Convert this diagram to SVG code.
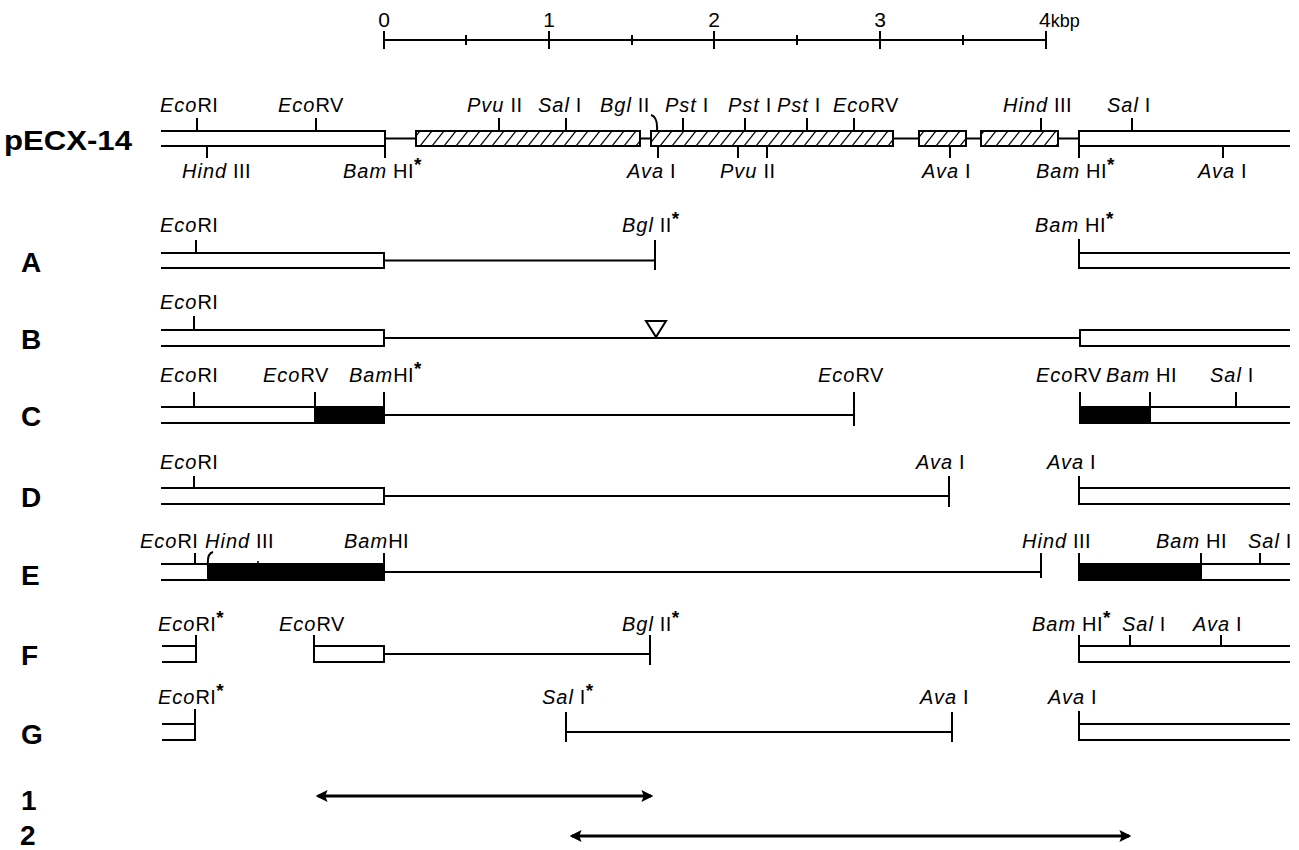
<svg xmlns="http://www.w3.org/2000/svg" width="1299" height="850" viewBox="0 0 1299 850">
<style>
text{font-family:"Liberation Sans",Arial,sans-serif;fill:#000}
.l{font-size:20px;letter-spacing:0.4px}
.i{font-style:italic;letter-spacing:1px}
.s{font-size:19px;font-weight:bold}
.big{font-size:28px;font-weight:bold}
.sc{font-size:21px}
.ln{stroke:#000;stroke-width:2;fill:none}
.blk{fill:#000;stroke:#000;stroke-width:2}
.hb{fill:url(#hatch);stroke:#000;stroke-width:2}
.arr{stroke:#000;stroke-width:3;fill:none}
</style>
<defs>
<pattern id="hatch" patternUnits="userSpaceOnUse" x="0" y="131" width="12" height="15">
<path d="M0,15 L12,0" stroke="#000" stroke-width="1.2"/>
</pattern>
<marker id="ah" viewBox="0 0 10 10" refX="8" refY="5" markerWidth="4" markerHeight="4" orient="auto-start-reverse" markerUnits="strokeWidth">
<path d="M0,0 L10,5 L0,10 L2,5 Z" fill="#000"/>
</marker>
</defs>

<g id="scale">
<path class="ln" d="M384,40 H1046 M384,31 V49 M549,31 V49 M714,31 V49 M880,31 V49 M1046,31 V49 M466,35 V45 M632,35 V45 M797,35 V45 M963,35 V45"/>
<text class="sc" x="384" y="27" text-anchor="middle">0</text>
<text class="sc" x="549" y="27" text-anchor="middle">1</text>
<text class="sc" x="714" y="27" text-anchor="middle">2</text>
<text class="sc" x="880" y="27" text-anchor="middle">3</text>
<text class="sc" x="1039" y="27">4<tspan font-size="18">kbp</tspan></text>
</g>

<g id="row-labels">
<text class="big" x="4" y="150" textLength="128" lengthAdjust="spacingAndGlyphs">pECX-14</text>
<text class="big" x="21" y="272">A</text>
<text class="big" x="21" y="349">B</text>
<text class="big" x="21" y="426">C</text>
<text class="big" x="21" y="507">D</text>
<text class="big" x="21" y="585">E</text>
<text class="big" x="21" y="665">F</text>
<text class="big" x="21" y="744">G</text>
<text class="big" x="21" y="810">1</text>
<text class="big" x="20" y="845">2</text>
</g>

<g id="pECX14">
<path class="ln" d="M161,131 H385 V158 M385,146 H161 M385,138.5 H416 M640,138.5 H651 M893,138.5 H919 M966,138.5 H981 M1058,138.5 H1079 M1290,131 H1079 V158 M1079,146 H1290"/>
<rect class="hb" x="416" y="131" width="224" height="15"/>
<rect class="hb" x="651" y="131" width="242" height="15"/>
<rect class="hb" x="919" y="131" width="47" height="15"/>
<rect class="hb" x="981" y="131" width="77" height="15"/>
<path class="ln" d="M197,118 V131 M316,118 V131 M499,118 V131 M566,118 V131 M683,118 V131 M745,118 V131 M807,118 V131 M854,118 V131 M1041,118 V131 M1132,118 V131 M651,115 Q658,117 657,131 M207,146 V158 M658,146 V158 M738,146 V158 M767,146 V158 M950,146 V158 M1223,146 V158"/>
<g class="l">
<text x="160" y="112"><tspan class="i">Eco</tspan>RI</text>
<text x="278" y="112"><tspan class="i">Eco</tspan>RV</text>
<text x="467" y="112"><tspan class="i">Pvu</tspan> II</text>
<text x="538" y="112"><tspan class="i">Sal</tspan> I</text>
<text x="600" y="112"><tspan class="i">Bgl</tspan> II</text>
<text x="665" y="112"><tspan class="i">Pst</tspan> I</text>
<text x="728" y="112"><tspan class="i">Pst</tspan> I</text>
<text x="777" y="112"><tspan class="i">Pst</tspan> I</text>
<text x="833" y="112"><tspan class="i">Eco</tspan>RV</text>
<text x="1003" y="112"><tspan class="i">Hind</tspan> III</text>
<text x="1107" y="112"><tspan class="i">Sal</tspan> I</text>
<text x="182" y="178"><tspan class="i">Hind</tspan> III</text>
<text x="343" y="178"><tspan class="i">Bam</tspan> HI<tspan class="s" dy="-7">*</tspan></text>
<text x="627" y="178"><tspan class="i">Ava</tspan> I</text>
<text x="720" y="178"><tspan class="i">Pvu</tspan> II</text>
<text x="922" y="178"><tspan class="i">Ava</tspan> I</text>
<text x="1036" y="178"><tspan class="i">Bam</tspan> HI<tspan class="s" dy="-7">*</tspan></text>
<text x="1198" y="178"><tspan class="i">Ava</tspan> I</text>
</g>
</g>

<g id="rowA">
<path class="ln" d="M161,253 H384 V268 H161 M196,240 V253 M384,260.5 H655 M655,240 V270 M1290,253 H1079 V268 H1290 M1079,239 V253"/>
<g class="l">
<text x="160" y="232"><tspan class="i">Eco</tspan>RI</text>
<text x="622" y="232"><tspan class="i">Bgl</tspan> II<tspan class="s" dy="-7">*</tspan></text>
<text x="1035" y="232"><tspan class="i">Bam</tspan> HI<tspan class="s" dy="-7">*</tspan></text>
</g>
</g>

<g id="rowB">
<path class="ln" d="M161,330 H384 V346 H161 M194,316 V330 M384,338 H1080 M1290,330 H1080 V346 H1290"/>
<path class="ln" d="M646,321 H666 L656,337 Z"/>
<g class="l">
<text x="160" y="309"><tspan class="i">Eco</tspan>RI</text>
</g>
</g>

<g id="rowC">
<rect class="blk" x="315" y="407" width="69" height="16"/>
<rect class="blk" x="1080" y="407" width="70" height="16"/>
<path class="ln" d="M161,407 H315 M161,423 H315 M194,392 V407 M315,392 V407 M384,392 V415 M384,415 H854 M854,392 V426 M1080,392 V423 M1150,392 V407 M1150,407 H1290 M1150,423 H1290 M1236,392 V407"/>
<g class="l">
<text x="160" y="382"><tspan class="i">Eco</tspan>RI</text>
<text x="263" y="382"><tspan class="i">Eco</tspan>RV</text>
<text x="349" y="382"><tspan class="i">Bam</tspan>HI<tspan class="s" dy="-7">*</tspan></text>
<text x="818" y="382"><tspan class="i">Eco</tspan>RV</text>
<text x="1036" y="382"><tspan class="i">Eco</tspan>RV</text>
<text x="1106" y="382"><tspan class="i">Bam</tspan> HI</text>
<text x="1210" y="382"><tspan class="i">Sal</tspan> I</text>
</g>
</g>

<g id="rowD">
<path class="ln" d="M161,488 H384 V504 H161 M194,476 V488 M384,496 H949 M949,476 V507 M1290,488 H1079 V504 H1290 M1079,476 V488"/>
<g class="l">
<text x="160" y="469"><tspan class="i">Eco</tspan>RI</text>
<text x="916" y="469"><tspan class="i">Ava</tspan> I</text>
<text x="1047" y="469"><tspan class="i">Ava</tspan> I</text>
</g>
</g>

<g id="rowE">
<rect class="blk" x="208" y="564" width="176" height="16"/>
<rect class="blk" x="1079" y="564" width="122" height="16"/>
<path class="ln" d="M161,564 H208 M161,580 H208 M195,553 V564 M213,552 Q207,554 208,564 M384,553 V564 M384,572 H1041 M1041,553 V578 M1079,553 V564 M1201,553 V564 M1201,564 H1290 M1201,580 H1290 M1260,553 V564"/>
<path d="M258,561 V564" stroke="#000" stroke-width="1.5"/>
<g class="l">
<text x="140" y="548"><tspan class="i">Eco</tspan>RI</text>
<text x="205" y="548"><tspan class="i">Hind</tspan> III</text>
<text x="344" y="548"><tspan class="i">Bam</tspan>HI</text>
<text x="1022" y="548"><tspan class="i">Hind</tspan> III</text>
<text x="1156" y="548"><tspan class="i">Bam</tspan> HI</text>
<text x="1248" y="548"><tspan class="i">Sal</tspan> I</text>
</g>
</g>

<g id="rowF">
<path class="ln" d="M162,646 H196 V662 H162 M196,635 V646 M314,635 V662 H384 V646 H314 M384,654 H650 M650,635 V665 M1290,646 H1079 V662 H1290 M1079,635 V646 M1130,635 V646 M1221,635 V646"/>
<g class="l">
<text x="158" y="631"><tspan class="i">Eco</tspan>RI<tspan class="s" dy="-7">*</tspan></text>
<text x="279" y="631"><tspan class="i">Eco</tspan>RV</text>
<text x="622" y="631"><tspan class="i">Bgl</tspan> II<tspan class="s" dy="-7">*</tspan></text>
<text x="1032" y="631"><tspan class="i">Bam</tspan> HI<tspan class="s" dy="-7">*</tspan></text>
<text x="1122" y="631"><tspan class="i">Sal</tspan> I</text>
<text x="1193" y="631"><tspan class="i">Ava</tspan> I</text>
</g>
</g>

<g id="rowG">
<path class="ln" d="M162,724 H195 V740 H162 M195,709 V724 M566,712 V742 M566,732 H952 M952,712 V742 M1290,724 H1079 V740 H1290 M1079,711 V724"/>
<g class="l">
<text x="158" y="704"><tspan class="i">Eco</tspan>RI<tspan class="s" dy="-7">*</tspan></text>
<text x="542" y="704"><tspan class="i">Sal</tspan> I<tspan class="s" dy="-7">*</tspan></text>
<text x="920" y="704"><tspan class="i">Ava</tspan> I</text>
<text x="1048" y="704"><tspan class="i">Ava</tspan> I</text>
</g>
</g>

<g id="connectors">
<path class="arr" d="M318,796 H651" marker-start="url(#ah)" marker-end="url(#ah)"/>
<path class="arr" d="M572,836 H1129" marker-start="url(#ah)" marker-end="url(#ah)"/>
</g>
</svg>
